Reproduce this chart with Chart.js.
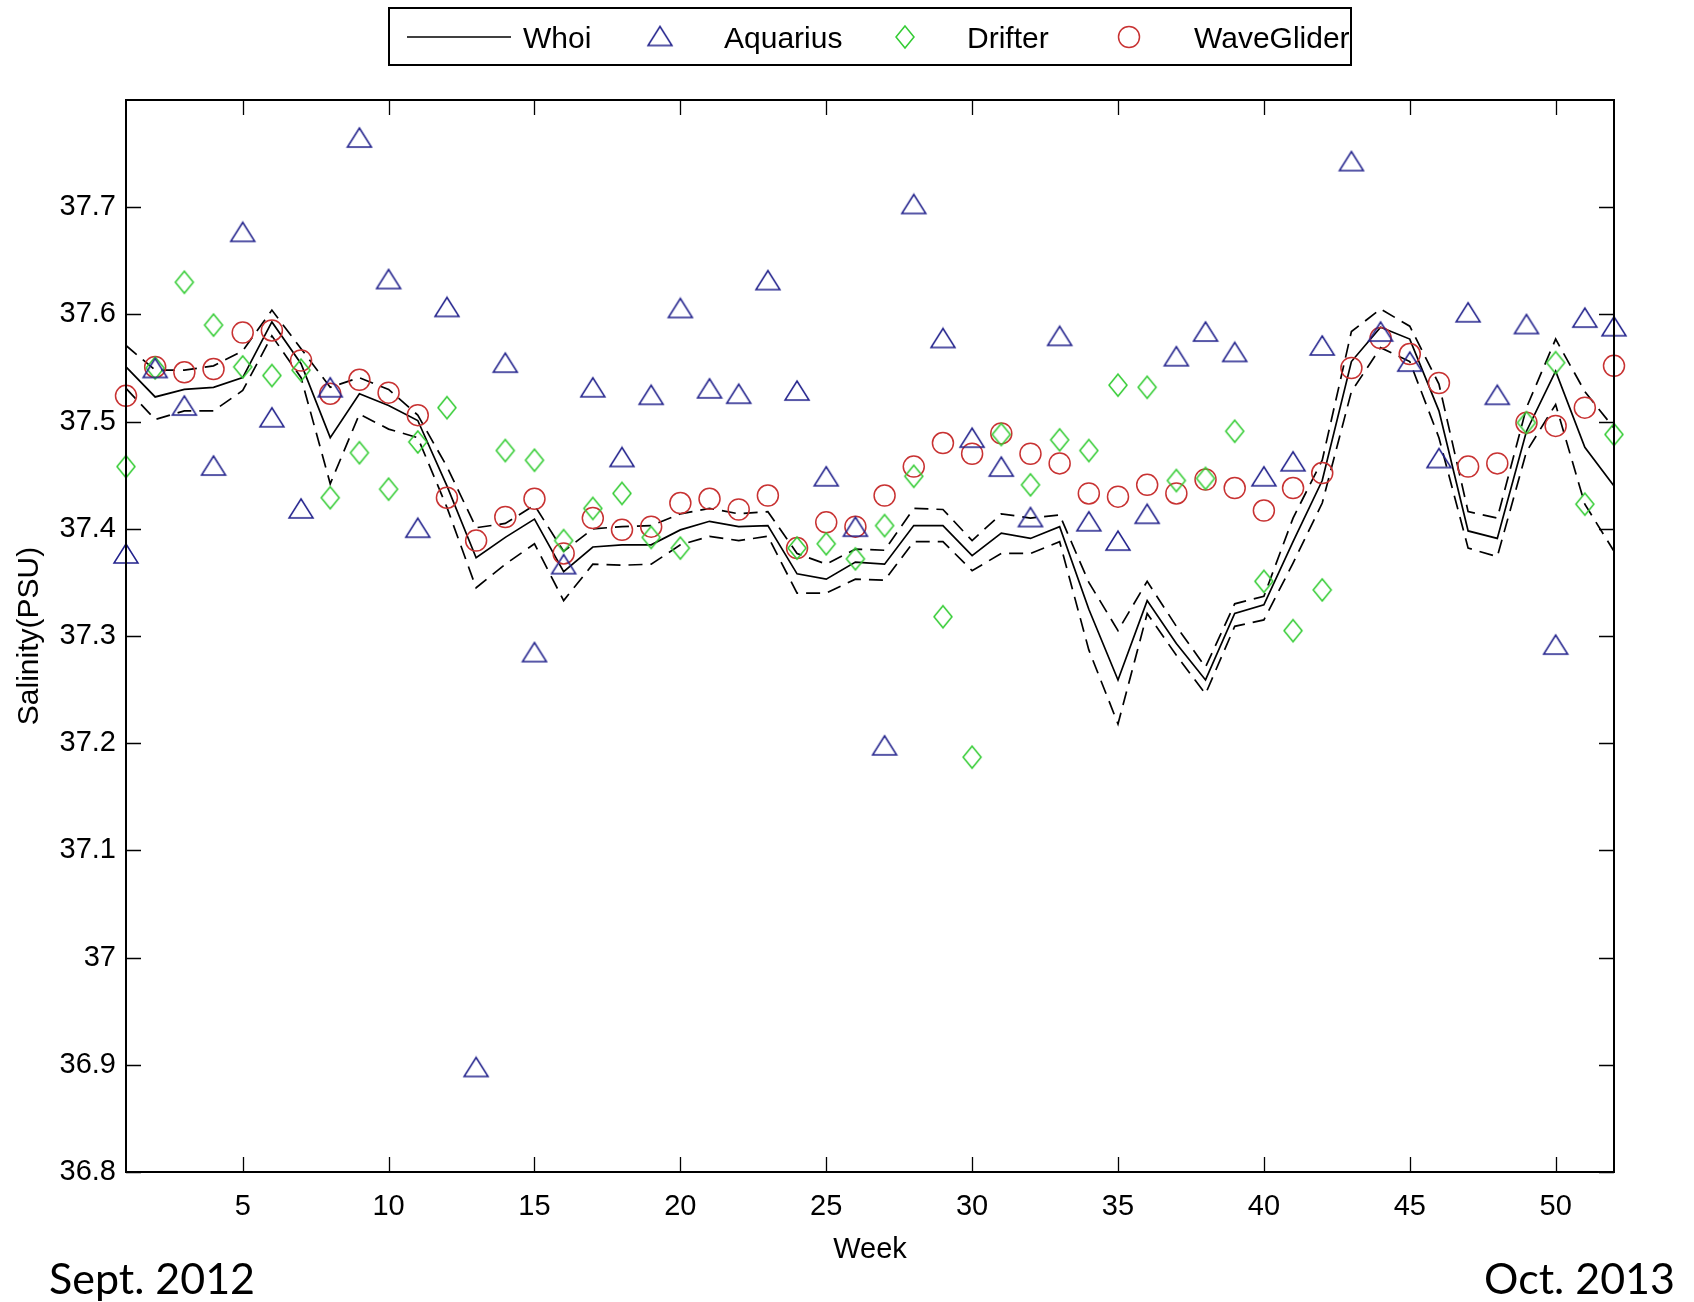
<!DOCTYPE html>
<html>
<head>
<meta charset="utf-8">
<title>Salinity by week</title>
<script src="https://cdn.jsdelivr.net/npm/chart.js@4.4.1/dist/chart.umd.min.js"></script>
<style>
  html, body { margin: 0; padding: 0; background: #fff; }
  #wrap { width: 1694px; height: 1302px; }
</style>
</head>
<body>
<div id="wrap"><canvas id="salinity-canvas" width="1694" height="1302"></canvas></div>
<script>
// week index, Sept. 2012 -> Oct. 2013
const weeks = [1, 2, 3, 4, 5, 6, 7, 8, 9, 10, 11, 12, 13, 14, 15, 16, 17, 18, 19, 20,
  21, 22, 23, 24, 25, 26, 27, 28, 29, 30, 31, 32, 33, 34, 35, 36, 37, 38, 39, 40,
  41, 42, 43, 44, 45, 46, 47, 48, 49, 50, 51, 52];
const xTicks = [5, 10, 15, 20, 25, 30, 35, 40, 45, 50];
const yTicks = [36.8, 36.9, 37.0, 37.1, 37.2, 37.3, 37.4, 37.5, 37.6, 37.7];

// Whoi mean and its dashed bounds
const whoi = [37.551, 37.523, 37.530, 37.532, 37.541, 37.593, 37.554, 37.485, 37.526, 37.515,
  37.501, 37.440, 37.373, 37.392, 37.409, 37.360, 37.383, 37.385, 37.385, 37.399,
  37.407, 37.402, 37.403, 37.358, 37.353, 37.369, 37.367, 37.403, 37.403, 37.375,
  37.396, 37.391, 37.402, 37.325, 37.259, 37.333, 37.293, 37.259, 37.321, 37.329,
  37.388, 37.445, 37.556, 37.588, 37.577, 37.510, 37.398, 37.391, 37.491, 37.547,
  37.476, 37.440];
const whoiUpper = [37.571, 37.548, 37.548, 37.552, 37.566, 37.604, 37.568, 37.532, 37.541, 37.530,
  37.506, 37.458, 37.401, 37.405, 37.422, 37.379, 37.400, 37.402, 37.403, 37.414,
  37.419, 37.414, 37.416, 37.377, 37.367, 37.381, 37.380, 37.419, 37.418, 37.389,
  37.414, 37.410, 37.413, 37.350, 37.305, 37.351, 37.309, 37.271, 37.330, 37.337,
  37.410, 37.464, 37.584, 37.605, 37.589, 37.535, 37.416, 37.410, 37.513, 37.577,
  37.528, 37.494];
const whoiLower = [37.531, 37.502, 37.510, 37.510, 37.529, 37.580, 37.541, 37.442, 37.507, 37.493,
  37.485, 37.420, 37.345, 37.367, 37.386, 37.333, 37.367, 37.366, 37.367, 37.385,
  37.393, 37.389, 37.393, 37.340, 37.340, 37.353, 37.352, 37.388, 37.388, 37.361,
  37.377, 37.377, 37.388, 37.287, 37.218, 37.321, 37.282, 37.246, 37.309, 37.315,
  37.368, 37.424, 37.528, 37.569, 37.556, 37.485, 37.382, 37.374, 37.472, 37.516,
  37.423, 37.379];

const aquarius = [37.377, 37.550, 37.515, 37.459, 37.677, 37.504, 37.419, 37.532, 37.765, 37.633,
  37.401, 37.607, 36.898, 37.555, 37.285, 37.367, 37.532, 37.467, 37.525, 37.606,
  37.531, 37.526, 37.632, 37.529, 37.449, 37.402, 37.198, 37.703, 37.578, 37.485,
  37.458, 37.411, 37.580, 37.407, 37.389, 37.414, 37.561, 37.584, 37.565, 37.449,
  37.463, 37.571, 37.743, 37.584, 37.556, 37.466, 37.602, 37.525, 37.591, 37.292,
  37.597, 37.589];
const drifter = [37.458, 37.550, 37.630, 37.590, 37.551, 37.543, 37.548, 37.429, 37.471, 37.437,
  37.481, 37.513, null, 37.473, 37.464, 37.389, 37.419, 37.433, 37.392, 37.382,
  null, null, null, 37.382, 37.386, 37.372, 37.403, 37.449, 37.318, 37.187,
  37.488, 37.441, 37.483, 37.473, 37.534, 37.532, 37.445, 37.447, 37.491, 37.351,
  37.305, 37.343, null, null, null, null, null, null, 37.499, 37.555,
  37.423, 37.488];
const waveGlider = [37.524, 37.551, 37.546, 37.549, 37.583, 37.585, 37.557, 37.526, 37.539, 37.527,
  37.506, 37.429, 37.389, 37.411, 37.428, 37.377, 37.410, 37.399, 37.402, 37.424,
  37.428, 37.418, 37.431, 37.382, 37.406, 37.402, 37.431, 37.458, 37.480, 37.470,
  37.489, 37.470, 37.461, 37.433, 37.430, 37.441, 37.433, 37.446, 37.438, 37.417,
  37.438, 37.452, 37.550, 37.578, 37.563, 37.536, 37.458, 37.461, 37.499, 37.496,
  37.513, 37.552];

const NAVY = "#22228c";
const GREEN = "#33cc33";
const RED = "#c83232";

const pts = arr => weeks.map((w, i) => ({ x: w, y: arr[i] }));

// open triangle / diamond marker drawn once, used as pointStyle
function markerCanvas(kind, w, h, color) {
  const c = document.createElement("canvas");
  c.width = w + 4; c.height = h + 4;
  const g = c.getContext("2d");
  const cx = c.width / 2, cy = c.height / 2;
  g.strokeStyle = color;
  g.lineWidth = 1.5;
  g.beginPath();
  if (kind === "triangle") {
    g.moveTo(cx, cy - h / 2); g.lineTo(cx + w / 2, cy + h / 2); g.lineTo(cx - w / 2, cy + h / 2);
  } else {
    g.moveTo(cx, cy - h / 2); g.lineTo(cx + w / 2, cy); g.lineTo(cx, cy + h / 2); g.lineTo(cx - w / 2, cy);
  }
  g.closePath();
  g.stroke();
  return c;
}
const triImg = markerCanvas("triangle", 24, 19, NAVY);
const diaImg = markerCanvas("diamond", 18, 22, GREEN);

// box + inward ticks on all four sides
const framePlugin = {
  id: "frame",
  afterDatasetsDraw(chart) {
    const { ctx, chartArea: a, scales: { x, y } } = chart;
    const len = 15;
    ctx.save();
    ctx.strokeStyle = "#000";
    ctx.lineWidth = 1.3;
    ctx.beginPath();
    xTicks.forEach(v => {
      const px = Math.round(x.getPixelForValue(v)) + 0.5;
      ctx.moveTo(px, a.bottom); ctx.lineTo(px, a.bottom - len);
      ctx.moveTo(px, a.top); ctx.lineTo(px, a.top + len);
    });
    yTicks.forEach(v => {
      const py = Math.round(y.getPixelForValue(v)) + 0.5;
      ctx.moveTo(a.left, py); ctx.lineTo(a.left + len, py);
      ctx.moveTo(a.right, py); ctx.lineTo(a.right - len, py);
    });
    ctx.stroke();
    ctx.lineWidth = 2;
    ctx.strokeRect(a.left, a.top, a.right - a.left, a.bottom - a.top);
    ctx.restore();
  }
};

// legend box across the top + period labels under the axis
const legendPlugin = {
  id: "boxLegend",
  afterDraw(chart) {
    const { ctx } = chart;
    ctx.save();
    ctx.strokeStyle = "#000";
    ctx.lineWidth = 2;
    ctx.strokeRect(389, 8, 962, 57);

    ctx.lineWidth = 1.6;
    ctx.beginPath(); ctx.moveTo(407, 37); ctx.lineTo(511, 37); ctx.stroke();
    ctx.drawImage(triImg, 660 - triImg.width / 2, 36 - triImg.height / 2);
    ctx.drawImage(diaImg, 905 - diaImg.width / 2, 37 - diaImg.height / 2);
    ctx.strokeStyle = RED;
    ctx.lineWidth = 1.5;
    ctx.beginPath(); ctx.arc(1129, 37, 10.5, 0, Math.PI * 2); ctx.stroke();

    ctx.fillStyle = "#000";
    ctx.font = "30px 'Liberation Sans', Arial, sans-serif";
    ctx.textBaseline = "middle";
    ctx.fillText("Whoi", 523, 40);
    ctx.fillText("Aquarius", 724, 40);
    ctx.fillText("Drifter", 967, 40);
    ctx.fillText("WaveGlider", 1194, 40);

    ctx.font = "43px Lato, 'Open Sans', sans-serif";
    ctx.textBaseline = "alphabetic";
    ctx.textAlign = "left";
    ctx.fillText("Sept. 2012", 49, 1294);
    ctx.textAlign = "right";
    ctx.fillText("Oct. 2013", 1675, 1294);
    ctx.restore();
  }
};

const lineSet = (label, arr, dash) => ({
  label, data: pts(arr),
  showLine: true, pointRadius: 0,
  borderColor: "#000", borderWidth: 1.7, borderDash: dash,
  tension: 0, clip: false, order: 3,
});
const markSet = (label, arr, style, color) => ({
  label, data: pts(arr),
  showLine: false, pointStyle: style, pointRadius: 10.5,
  borderColor: color, pointBorderWidth: 1.5,
  backgroundColor: "rgba(0,0,0,0)",
  clip: false, order: 1,
});

new Chart(document.getElementById("salinity-canvas"), {
  type: "line",
  data: {
    datasets: [
      lineSet("Whoi", whoi, []),
      lineSet("Whoi upper", whoiUpper, [14, 8]),
      lineSet("Whoi lower", whoiLower, [14, 8]),
      markSet("Aquarius", aquarius, triImg, NAVY),
      markSet("Drifter", drifter, diaImg, GREEN),
      markSet("WaveGlider", waveGlider, "circle", RED),
    ]
  },
  options: {
    responsive: false,
    animation: false,
    layout: { padding: { top: 100, right: 80, left: 0, bottom: 0 } },
    plugins: { legend: { display: false }, tooltip: { enabled: false } },
    scales: {
      x: {
        type: "linear", min: 1, max: 52,
        afterBuildTicks: s => { s.ticks = xTicks.map(v => ({ value: v })); },
        afterFit: s => { s.height = 130; },
        grid: { display: false, drawTicks: false },
        border: { display: false },
        ticks: { color: "#000", padding: 18, font: { family: "'Liberation Sans', Arial", size: 29 } },
        title: { display: true, text: "Week", color: "#000", padding: { top: 0, bottom: 35 },
                 font: { family: "'Liberation Sans', Arial", size: 29 } },
      },
      y: {
        min: 36.8, max: 37.8,
        afterBuildTicks: s => { s.ticks = yTicks.map(v => ({ value: v })); },
        afterFit: s => { s.width = 126; },
        grid: { display: false, drawTicks: false },
        border: { display: false },
        ticks: {
          color: "#000", padding: 10, autoSkip: false,
          font: { family: "'Liberation Sans', Arial", size: 29 },
          callback: v => String(Math.round(v * 10) / 10),
        },
        title: { display: true, text: "Salinity(PSU)", color: "#000", padding: { top: 12, bottom: 0 },
                 font: { family: "'Liberation Sans', Arial", size: 30 } },
      }
    }
  },
  plugins: [framePlugin, legendPlugin],
});
</script>
</body>
</html>
